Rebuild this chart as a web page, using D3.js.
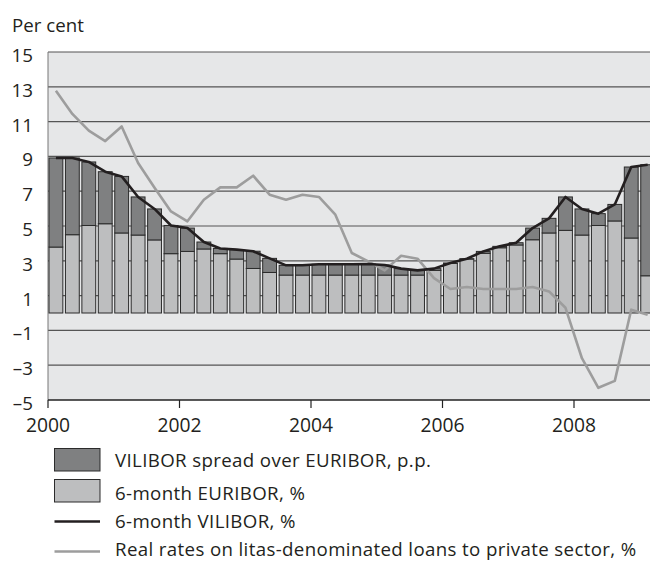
<!DOCTYPE html>
<html>
<head>
<meta charset="utf-8">
<script src="https://cdn.jsdelivr.net/npm/d3@7"></script>
<style>
  body { margin: 0; background: #fff; }
  svg { display: block; font-family: "Open Sans", sans-serif; }
</style>
</head>
<body>
<script>
// quarterly observations, 2000 Q1 .. 2009 Q1
const quarters = ['2000Q1','2000Q2','2000Q3','2000Q4','2001Q1','2001Q2','2001Q3','2001Q4',
  '2002Q1','2002Q2','2002Q3','2002Q4','2003Q1','2003Q2','2003Q3','2003Q4',
  '2004Q1','2004Q2','2004Q3','2004Q4','2005Q1','2005Q2','2005Q3','2005Q4',
  '2006Q1','2006Q2','2006Q3','2006Q4','2007Q1','2007Q2','2007Q3','2007Q4',
  '2008Q1','2008Q2','2008Q3','2008Q4','2009Q1']
const vilibor = [8.91, 8.91, 8.68, 8.12, 7.85, 6.67, 5.98, 5.03, 4.88, 4.08, 3.71, 3.64,
  3.55, 3.14, 2.74, 2.74, 2.80, 2.80, 2.80, 2.82, 2.76, 2.55, 2.45, 2.55,
  2.87, 3.12, 3.54, 3.83, 4.04, 4.88, 5.44, 6.67, 5.98, 5.71, 6.24, 8.39, 8.52]
const euribor = [3.79, 4.50, 5.03, 5.13, 4.60, 4.48, 4.20, 3.41, 3.54, 3.68, 3.41, 3.10,
  2.56, 2.33, 2.18, 2.18, 2.18, 2.18, 2.18, 2.18, 2.18, 2.18, 2.18, 2.45,
  2.85, 3.10, 3.43, 3.75, 3.91, 4.21, 4.60, 4.75, 4.48, 5.03, 5.29, 4.31, 2.14]
const realRates = [12.78, 11.44, 10.48, 9.88, 10.72, 8.62, 7.2, 5.84, 5.27, 6.51, 7.22, 7.22,
  7.89, 6.8, 6.51, 6.8, 6.67, 5.65, 3.45, 2.97, 2.45, 3.29, 3.12, 2.0,
  1.38, 1.49, 1.38, 1.38, 1.38, 1.49, 1.24, 0.3, -2.6, -4.3, -3.9, 0.19, -0.1]
const yTicks = [-5, -3, -1, 1, 3, 5, 7, 9, 11, 13, 15]
const xTicks = [2000, 2002, 2004, 2006, 2008]
const legendLabels = ['VILIBOR spread over EURIBOR, p.p.', '6-month EURIBOR, %',
  '6-month VILIBOR, %', 'Real rates on litas-denominated loans to private sector, %']

const data = quarters.map((q, i) => ({
  t: +q.slice(0, 4) + (+q.slice(5) - 1) / 4,
  vil: vilibor[i], eur: euribor[i], real: realRates[i]
}))

const W = 650, H = 561
const margin = {left: 48, top: 52}
const plotW = 610, plotH = 348

const svg = d3.select('body').append('svg').attr('width', W).attr('height', H)

const x = d3.scaleLinear().domain([2000, 2000 + plotW / 65.75]).range([margin.left, margin.left + plotW])
const y = d3.scaleLinear().domain([-5, 15]).range([margin.top + plotH, margin.top])

svg.append('rect')
  .attr('x', margin.left).attr('y', margin.top)
  .attr('width', plotW).attr('height', plotH)
  .attr('fill', '#e6e7e8')

// grid
svg.append('g').selectAll('line')
  .data(yTicks.slice(1))
  .enter().append('line')
  .attr('x1', margin.left).attr('x2', margin.left + plotW)
  .attr('y1', d => y(d)).attr('y2', d => y(d))
  .attr('stroke', '#555').attr('stroke-width', 1.2)

svg.append('line')
  .attr('x1', margin.left).attr('x2', margin.left)
  .attr('y1', margin.top).attr('y2', margin.top + plotH)
  .attr('stroke', '#777').attr('stroke-width', 1)

// bars
const q = 0.25
const bars = svg.append('g')
bars.selectAll('.eur')
  .data(data)
  .enter().append('rect')
  .attr('class', 'eur')
  .attr('x', d => x(d.t) + 1)
  .attr('width', d => x(d.t + q) - x(d.t) - 2.6)
  .attr('y', d => y(d.eur))
  .attr('height', d => y(0) - y(d.eur))
  .attr('fill', '#bdbebf').attr('stroke', '#2b2b2b').attr('stroke-width', 1)

bars.selectAll('.spread')
  .data(data.filter(d => d.vil - d.eur > 0.02))
  .enter().append('rect')
  .attr('class', 'spread')
  .attr('x', d => x(d.t) + 1)
  .attr('width', d => x(d.t + q) - x(d.t) - 2.6)
  .attr('y', d => y(d.vil))
  .attr('height', d => y(d.eur) - y(d.vil))
  .attr('fill', '#7f8081').attr('stroke', '#2b2b2b').attr('stroke-width', 1)

// lines
const mid = d => x(d.t + q / 2) - 0.3
svg.append('path')
  .datum(data)
  .attr('fill', 'none').attr('stroke', '#9d9d9d').attr('stroke-width', 2.6)
  .attr('stroke-linejoin', 'round')
  .attr('d', d3.line().x(mid).y(d => y(d.real)))

svg.append('path')
  .datum(data)
  .attr('fill', 'none').attr('stroke', '#231f20').attr('stroke-width', 2.6)
  .attr('stroke-linejoin', 'round')
  .attr('d', d3.line().x(mid).y(d => y(d.vil)))

// axes
svg.append('line')
  .attr('x1', margin.left).attr('x2', margin.left + plotW)
  .attr('y1', y(-5)).attr('y2', y(-5))
  .attr('stroke', '#222').attr('stroke-width', 1.3)

const xAxis = svg.append('g')
xAxis.selectAll('line')
  .data(xTicks)
  .enter().append('line')
  .attr('x1', d => x(d)).attr('x2', d => x(d))
  .attr('y1', y(-5)).attr('y2', y(-5) + 8)
  .attr('stroke', '#222').attr('stroke-width', 1.2)
xAxis.selectAll('text')
  .data(xTicks)
  .enter().append('text')
  .attr('x', d => x(d)).attr('y', y(-5) + 32)
  .attr('text-anchor', 'middle')
  .attr('font-size', 19.3).attr('fill', '#231f20')
  .text(d => d)

svg.append('g').selectAll('text')
  .data(yTicks)
  .enter().append('text')
  .attr('x', 33).attr('y', d => y(d) + 10)
  .attr('text-anchor', 'end')
  .attr('font-size', 18.8).attr('fill', '#231f20')
  .text(d => d < 0 ? '\u2013' + Math.abs(d) : d)

svg.append('text')
  .attr('x', 12).attr('y', 31.5)
  .attr('font-size', 18.7).attr('fill', '#231f20')
  .text('Per cent')

// legend
const lg = svg.append('g')
const baseY = [467, 500, 528, 556]
lg.append('rect').attr('x', 54.5).attr('y', 448.5).attr('width', 45.5).attr('height', 22.5)
  .attr('fill', '#7f8081').attr('stroke', '#2b2b2b')
lg.append('rect').attr('x', 54.5).attr('y', 479.5).attr('width', 45.5).attr('height', 22.5)
  .attr('fill', '#bdbebf').attr('stroke', '#2b2b2b')
lg.append('line').attr('x1', 54.5).attr('x2', 100).attr('y1', 521.5).attr('y2', 521.5)
  .attr('stroke', '#231f20').attr('stroke-width', 2.6)
lg.append('line').attr('x1', 54.5).attr('x2', 100).attr('y1', 551.5).attr('y2', 551.5)
  .attr('stroke', '#9d9d9d').attr('stroke-width', 2.6)
lg.selectAll('text')
  .data(legendLabels)
  .enter().append('text')
  .attr('x', 115).attr('y', (d, i) => baseY[i])
  .attr('font-size', 18.7).attr('letter-spacing', 0.36).attr('fill', '#231f20')
  .text(d => d)
</script>
</body>
</html>
